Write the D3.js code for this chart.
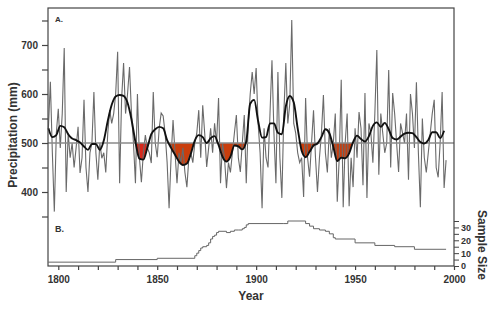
<!DOCTYPE html>
<html><head><meta charset="utf-8">
<script src="https://cdn.jsdelivr.net/npm/d3@7"></script>
<style>body{margin:0;background:#fff}</style>
</head><body><svg id="c" width="492" height="325"></svg>
<script>
// Annual precipitation (mm), 1795-1996
const startYear = 1795;
const precip = [530,625,480,360,520,570,490,560,694,400,520,470,500,450,490,533,439,470,588,450,
400,480,500,604,480,425,500,469,480,440,520,567,540,560,600,686,418,590,663,560,
600,655,560,500,418,600,470,420,480,516,490,480,459,604,500,471,530,561,555,520,
461,367,470,547,480,418,480,460,490,440,410,470,480,460,500,520,567,470,577,520,
451,490,530,480,540,500,592,418,500,470,408,460,440,480,520,557,470,441,500,557,
418,540,600,645,600,653,540,480,367,530,470,450,560,669,520,418,645,470,388,560,
663,540,580,751,540,520,480,460,470,390,592,470,431,500,567,470,400,470,520,598,
480,440,530,470,500,560,380,470,629,369,500,560,371,470,410,530,470,563,530,414,
602,388,540,520,460,560,690,435,560,520,480,500,649,450,602,560,500,441,540,520,
500,560,425,600,560,490,624,480,369,550,470,440,480,520,560,588,450,430,500,604,408,465];
// Smoothed curve, every second year from 1795
const smoothStep = 2;
const smooth = [530,512,516,535,532,518,509,506,501,493,486,498,498,486,505,545,578,595,598,596,
582,548,502,468,466,490,518,528,533,530,506,490,476,462,455,458,478,505,516,512,
500,510,514,496,472,462,472,495,493,487,503,580,588,545,511,512,540,540,521,518,
575,596,583,530,484,471,482,495,499,512,528,520,492,463,470,469,479,502,515,508,
503,514,535,542,533,541,528,510,507,513,519,521,520,512,502,499,506,522,522,510,525];
const referenceLevel = 500;
// Drought periods shaded below the reference level
const droughtStart = [1838.6, 1855, 1880.5, 1921.5, 1938.5];
const droughtEnd   = [1846, 1869.5, 1895, 1931.5, 1949.5];
const droughtColor = ["#d8291c", "#c93e0d", "#c93e0d", "#c93e0d", "#c93e0d"];
// Sample size (number of trees), step changes
const sampleYears = [1795,1829,1850,1869,1870,1871,1872,1873,1875,1876,1877,1878,1879,1880,1881,1885,1887,1889,1891,1893,1894,1895,1896,1914,1916,1925,1927,1929,1932,1935,1937,1939,1940,1950,1960,1970,1980,1996];
const sampleSize  = [3,5,6,8,10,12,14,15,16,18,21,23,24,26,27,26,27,28,28,29,30,32,33,33,35,33,31,29,28,27,25,22,21,18,16,15,13,13];
const yTicksMajor = [400,500,600,700];
const yTicksAll = [350,400,450,500,550,600,650,700,750];
const xTicks = [1800,1810,1820,1830,1840,1850,1860,1870,1880,1890,1900,1910,1920,1930,1940,1950,1960,1970,1980,1990,2000];
const xLabels = [1800,1850,1900,1950,2000];
const sTicksAll = [0,5,10,15,20,25,30,35];
const sTicksMajor = [0,10,20,30];

const svg = d3.select("#c");
const L = 48, R = 454, T = 8, B = 266;
const x = d3.scaleLinear().domain([1794.8, 2000]).range([L, R]);
const y = d3.scaleLinear().domain([249, 775.5]).range([B, T]);
const ys = d3.scaleLinear().domain([0, 35]).range([B, 221]);
const font = "'Liberation Sans', Arial, sans-serif";
const tc = "#333";

const annual = precip.map((v, i) => ({yr: startYear + i, v}));
const sm = smooth.map((v, i) => ({yr: startYear + i * smoothStep, v}));

// drought fills
const defs = svg.append("defs");
droughtStart.forEach((s, i) => {
  defs.append("clipPath").attr("id", "dc" + i).append("rect")
    .attr("x", x(s)).attr("y", y(referenceLevel))
    .attr("width", x(droughtEnd[i]) - x(s)).attr("height", B - y(referenceLevel));
  svg.append("path").datum(sm)
    .attr("clip-path", "url(#dc" + i + ")")
    .attr("fill", droughtColor[i])
    .attr("d", d3.area().curve(d3.curveMonotoneX).x(d => x(d.yr)).y0(y(referenceLevel)).y1(d => y(d.v)));
});

// annual thin line
svg.append("path").datum(annual)
  .attr("fill", "none").attr("stroke", "#6a6a6a").attr("stroke-width", 1.1)
  .attr("d", d3.line().x(d => x(d.yr)).y(d => y(d.v)));

// reference line
svg.append("line").attr("x1", L).attr("x2", R)
  .attr("y1", y(referenceLevel)).attr("y2", y(referenceLevel))
  .attr("stroke", "#8a8a8a").attr("stroke-width", 1.5);

// smoothed line
svg.append("path").datum(sm)
  .attr("fill", "none").attr("stroke", "#111").attr("stroke-width", 1.9)
  .attr("d", d3.line().curve(d3.curveMonotoneX).x(d => x(d.yr)).y(d => y(d.v)));

// sample size
const sdata = sampleYears.map((yr, i) => ({yr, v: sampleSize[i]}));
svg.append("path").datum(sdata)
  .attr("fill", "none").attr("stroke", "#666").attr("stroke-width", 1)
  .attr("d", d3.line().curve(d3.curveStepAfter).x(d => x(d.yr)).y(d => ys(d.v)));

// frame
svg.append("rect").attr("x", L).attr("y", T).attr("width", R - L).attr("height", B - T)
  .attr("fill", "none").attr("stroke", "#444").attr("stroke-width", 1.2);

// left axis
const ya = svg.append("g").attr("transform", `translate(${L},0)`)
  .call(d3.axisLeft(y).tickValues(yTicksAll).tickSize(6).tickFormat(d => yTicksMajor.includes(d) ? d : ""));
ya.select(".domain").remove();
ya.selectAll("line").attr("stroke", "#444").attr("stroke-width", 1.2);
ya.selectAll("text").attr("font-family", font).attr("font-size", 10).attr("font-weight", "bold").attr("fill", tc).attr("x", -10);

// bottom axis
const xa = svg.append("g").attr("transform", `translate(0,${B})`)
  .call(d3.axisBottom(x).tickValues(xTicks).tickSize(4).tickFormat(d => xLabels.includes(d) ? d : ""));
xa.select(".domain").remove();
xa.selectAll("line").attr("stroke", "#444").attr("stroke-width", 1.2);
xa.selectAll("text").attr("font-family", font).attr("font-size", 10).attr("font-weight", "bold").attr("fill", tc).attr("y", 10);

// right axis
const ra = svg.append("g").attr("transform", `translate(${R},0)`)
  .call(d3.axisRight(ys).tickValues(sTicksAll).tickSize(5).tickFormat(d => sTicksMajor.includes(d) ? d : ""));
ra.select(".domain").remove();
ra.selectAll("line").attr("stroke", "#444").attr("stroke-width", 1);
ra.selectAll("text").attr("font-family", font).attr("font-size", 9).attr("font-weight", "bold").attr("fill", tc).attr("x", 7);

// titles
svg.append("text").attr("transform", "translate(17,135) rotate(-90)").attr("text-anchor", "middle")
  .attr("font-family", font).attr("font-size", 12).attr("font-weight", "bold").attr("fill", tc).text("Precipitation (mm)");
svg.append("text").attr("x", 251).attr("y", 300).attr("text-anchor", "middle")
  .attr("font-family", font).attr("font-size", 12).attr("font-weight", "bold").attr("fill", tc).text("Year");
svg.append("text").attr("transform", "translate(478,245) rotate(90)").attr("text-anchor", "middle")
  .attr("font-family", font).attr("font-size", 12).attr("font-weight", "bold").attr("fill", tc).text("Sample Size");
svg.append("text").attr("x", 55).attr("y", 22).attr("font-family", font).attr("font-size", 8).attr("font-weight", "bold").attr("fill", tc).text("A.");
svg.append("text").attr("x", 55).attr("y", 232).attr("font-family", font).attr("font-size", 9).attr("font-weight", "bold").attr("fill", tc).text("B.");
</script></body></html>
